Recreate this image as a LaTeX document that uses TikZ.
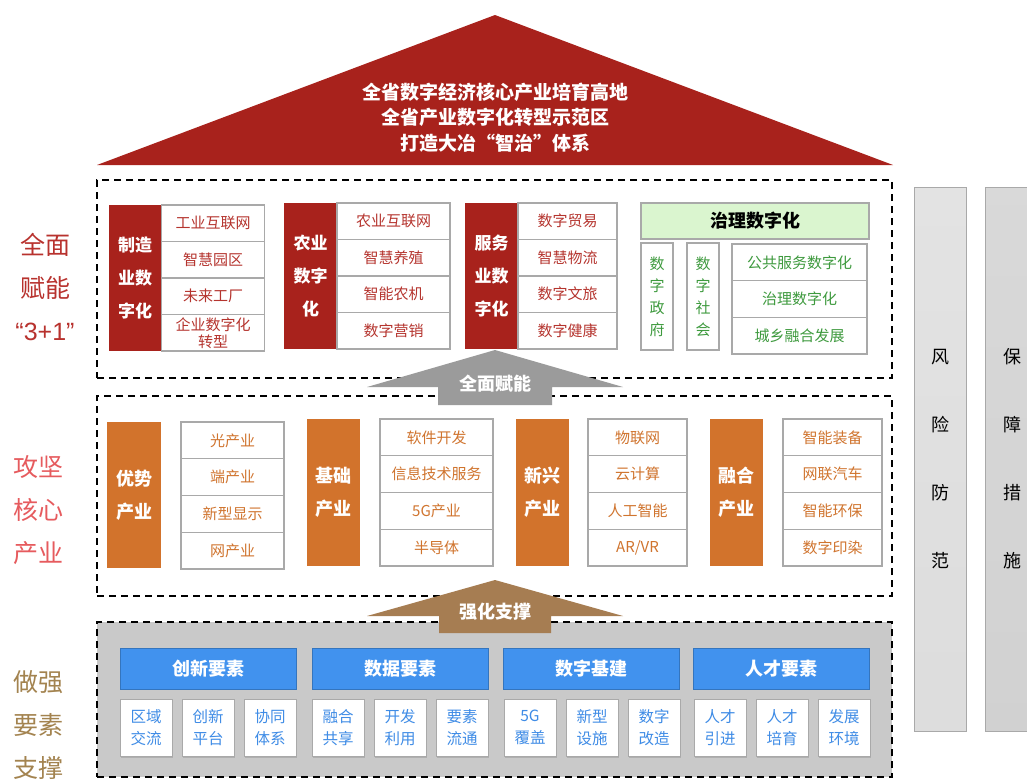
\documentclass[tikz,border=0pt]{standalone}
\usepackage{fontspec}
\setmainfont{Noto Sans CJK SC}
\newfontfamily\latinfont{Liberation Sans}
\usepackage{tikz}
\usetikzlibrary{positioning, shadows}
\definecolor{roofred}{HTML}{A8221C}
\definecolor{itemred}{HTML}{B5342E}
\definecolor{boxgray}{HTML}{A9A9A9}
\definecolor{orangeblk}{HTML}{D2732C}
\definecolor{orangetxt}{HTML}{D0742E}
\definecolor{govgreen}{HTML}{3E9A3E}
\definecolor{govfill}{HTML}{DAF5CF}
\definecolor{bluehead}{HTML}{4192EE}
\definecolor{bluetxt}{HTML}{3F8CE6}
\definecolor{bottomgray}{HTML}{C9C9C9}
\definecolor{arrowgray}{HTML}{9B9B9B}
\definecolor{arrowbrown}{HTML}{A67D52}
\definecolor{labred}{HTML}{B8322E}
\definecolor{labpink}{HTML}{E65B5E}
\definecolor{labbrown}{HTML}{A3834F}
\tikzstyle{dashlayer}=[rectangle, draw=black, dash pattern=on 7pt off 5pt, line width=1.8pt, inner sep=0pt]
\tikzstyle{rooftext}=[text=white, font=\bfseries\fontsize{19}{25.5}\selectfont, align=center]
\tikzstyle{arrowtext}=[text=white, font=\bfseries\fontsize{18}{20}\selectfont]
\tikzstyle{sidetext}=[font=\fontsize{25}{43}\selectfont, align=center]
\tikzstyle{sidecol}=[rectangle, draw=boxgray, line width=1pt, minimum height=544pt, font=\fontsize{18}{68}\selectfont, align=center, inner sep=0pt]
\tikzstyle{redblk}=[rectangle, fill=roofred, text=white, font=\bfseries\fontsize{17}{33}\selectfont, align=center, minimum width=53pt, minimum height=146pt, inner sep=0pt, outer sep=0pt]
\tikzstyle{ritem}=[rectangle, draw=boxgray, fill=white, line width=1.2pt, text=itemred, font=\fontsize{15}{17}\selectfont, align=center, minimum height=36.5pt, inner sep=0pt, outer sep=0pt]
\tikzstyle{ghead}=[rectangle, draw=boxgray, fill=govfill, line width=1.2pt, font=\bfseries\fontsize{18}{20}\selectfont, minimum width=228pt, minimum height=36pt]
\tikzstyle{gcol}=[rectangle, draw=boxgray, fill=white, line width=1.2pt, text=govgreen, font=\fontsize{15}{22}\selectfont, align=center, minimum width=32pt, minimum height=107pt, inner sep=0pt]
\tikzstyle{gitem}=[rectangle, draw=boxgray, fill=white, line width=1.2pt, text=govgreen, font=\fontsize{15}{17}\selectfont, minimum width=135pt, minimum height=36.7pt, inner sep=0pt, outer sep=0pt]
\tikzstyle{oblk}=[rectangle, fill=orangeblk, text=white, font=\bfseries\fontsize{18}{33}\selectfont, align=center, minimum width=53pt, minimum height=147pt, inner sep=0pt]
\tikzstyle{oitem}=[rectangle, draw=boxgray, fill=white, line width=1.2pt, text=orangetxt, font=\fontsize{15}{17}\selectfont, minimum height=36.75pt, inner sep=0pt, outer sep=0pt]
\tikzstyle{bhead}=[rectangle, draw=bluehead!80!black, fill=bluehead, line width=0.6pt, text=white, font=\bfseries\fontsize{18}{20}\selectfont, minimum width=176pt, minimum height=41pt, drop shadow={shadow xshift=0.8pt, shadow yshift=-1pt, opacity=0.25}]
\tikzstyle{elembox}=[rectangle, draw=boxgray, fill=white, line width=1pt, text=bluetxt, font=\fontsize{15.5}{22}\selectfont, align=center, minimum width=52pt, minimum height=57pt, inner sep=0pt, drop shadow={shadow xshift=1pt, shadow yshift=-1.5pt, opacity=0.35}]

\begin{document}
\begin{tikzpicture}[x=1pt, y=-1pt]
    \useasboundingbox (0,0) rectangle (1027,780);
    \fill[white] (0,0) rectangle (1027,780);

    % roof
    \fill[roofred] (97,165) -- (495,15) -- (893,165) -- cycle;
    \node[rooftext] (goal) at (495,117.5) {全省数字经济核心产业培育高地\\全省产业数字化转型示范区\\打造大冶“智治”体系};

    % three layers
    \node[dashlayer, minimum width=795pt, minimum height=198pt] (top) at (494.5,279) {};
    \node[dashlayer, minimum width=795pt, minimum height=200pt] (mid) at (494.5,496) {};
    \node[dashlayer, fill=bottomgray, minimum width=795pt, minimum height=155pt] (low) at (494.5,699.5) {};

    % side labels
    \node[sidetext, text=labred] (lab1) at (45,287) {全面\\赋能\\{\latinfont “3+1”}};
    \node[sidetext, text=labpink] (lab2) at (38,510) {攻坚\\核心\\产业};
    \node[sidetext, text=labbrown] (lab3) at (38,725) {做强\\要素\\支撑};

    % right columns
    \node[sidecol, top color=gray!22, bottom color=gray!27, minimum width=52pt] (risk) at (940,459) {风\\险\\防\\范};
    \node[sidecol, top color=gray!30, bottom color=gray!36, minimum width=55pt] (guard) at (1012.5,459) {保\\障\\措\\施};

    % top layer
    \node[redblk] (make) at (135,278) {制造\\业数\\字化};
    \node[ritem, minimum width=103pt, anchor=north west] (make1) at (make.north east) {工业互联网};
    \node[ritem, minimum width=103pt] (make2) [below=0pt of make1] {智慧园区};
    \node[ritem, minimum width=103pt] (make3) [below=0pt of make2] {未来工厂};
    \node[ritem, minimum width=103pt, align=center] (make4) [below=0pt of make3] {企业数字化\\转型};

    \node[redblk] (farm) at (310.5,276) {农业\\数字\\化};
    \node[ritem, minimum width=113pt, anchor=north west] (farm1) at (farm.north east) {农业互联网};
    \node[ritem, minimum width=113pt] (farm2) [below=0pt of farm1] {智慧养殖};
    \node[ritem, minimum width=113pt] (farm3) [below=0pt of farm2] {智能农机};
    \node[ritem, minimum width=113pt] (farm4) [below=0pt of farm3] {数字营销};

    \node[redblk] (serv) at (491.5,276) {服务\\业数\\字化};
    \node[ritem, minimum width=99pt, anchor=north west] (serv1) at (serv.north east) {数字贸易};
    \node[ritem, minimum width=99pt] (serv2) [below=0pt of serv1] {智慧物流};
    \node[ritem, minimum width=99pt] (serv3) [below=0pt of serv2] {数字文旅};
    \node[ritem, minimum width=99pt] (serv4) [below=0pt of serv3] {数字健康};

    \node[ghead] (gov) at (755,221) {治理数字化};
    \node[gcol] (gov1) at (657,296.5) {数\\字\\政\\府};
    \node[gcol] (gov2) at (703,296.5) {数\\字\\社\\会};
    \node[gitem] (gov3) at (799.5,262.3) {公共服务数字化};
    \node[gitem] (gov4) [below=0pt of gov3] {治理数字化};
    \node[gitem] (gov5) [below=0pt of gov4] {城乡融合发展};

    % middle layer
    \node[oblk, minimum width=54pt, minimum height=146pt] (adv) at (134,495) {优势\\产业};
    \node[oitem, minimum width=103pt, anchor=north] (adv1) at (232.5,422) {光产业};
    \node[oitem, minimum width=103pt] (adv2) [below=0pt of adv1] {端产业};
    \node[oitem, minimum width=103pt] (adv3) [below=0pt of adv2] {新型显示};
    \node[oitem, minimum width=103pt] (adv4) [below=0pt of adv3] {网产业};

    \node[oblk] (base) at (333.5,492.5) {基础\\产业};
    \node[oitem, minimum width=113pt, anchor=north] (base1) at (436.5,419) {软件开发};
    \node[oitem, minimum width=113pt] (base2) [below=0pt of base1] {信息技术服务};
    \node[oitem, minimum width=113pt] (base3) [below=0pt of base2] {5G产业};
    \node[oitem, minimum width=113pt] (base4) [below=0pt of base3] {半导体};

    \node[oblk] (new) at (542.5,492.5) {新兴\\产业};
    \node[oitem, minimum width=99pt, anchor=north] (new1) at (637.5,419) {物联网};
    \node[oitem, minimum width=99pt] (new2) [below=0pt of new1] {云计算};
    \node[oitem, minimum width=99pt] (new3) [below=0pt of new2] {人工智能};
    \node[oitem, minimum width=99pt] (new4) [below=0pt of new3] {AR/VR};

    \node[oblk] (fuse) at (736.5,492.5) {融合\\产业};
    \node[oitem, minimum width=99pt, anchor=north] (fuse1) at (832.5,419) {智能装备};
    \node[oitem, minimum width=99pt] (fuse2) [below=0pt of fuse1] {网联汽车};
    \node[oitem, minimum width=99pt] (fuse3) [below=0pt of fuse2] {智能环保};
    \node[oitem, minimum width=99pt] (fuse4) [below=0pt of fuse3] {数字印染};

    % bottom layer
    \node[bhead] (inno) at (208,668.5) {创新要素};
    \node[elembox] (inno1) at (146,727.5) {区域\\交流};
    \node[elembox] (inno2) at (208,727.5) {创新\\平台};
    \node[elembox] (inno3) at (270,727.5) {协同\\体系};

    \node[bhead] (data) at (400,668.5) {数据要素};
    \node[elembox] (data1) at (338,727.5) {融合\\共享};
    \node[elembox] (data2) at (400,727.5) {开发\\利用};
    \node[elembox] (data3) at (462,727.5) {要素\\流通};

    \node[bhead] (infra) at (591.5,668.5) {数字基建};
    \node[elembox] (infra1) at (530,727.5) {5G\\覆盖};
    \node[elembox] (infra2) at (592,727.5) {新型\\设施};
    \node[elembox] (infra3) at (654,727.5) {数字\\改造};

    \node[bhead] (talent) at (781.5,668.5) {人才要素};
    \node[elembox] (talent1) at (720,727.5) {人才\\引进};
    \node[elembox] (talent2) at (782,727.5) {人才\\培育};
    \node[elembox] (talent3) at (844,727.5) {发展\\环境};

    % block arrows
    \fill[arrowgray] (495,350) -- (623,387) -- (552,387) -- (552,405) -- (438,405) -- (438,387) -- (367,387) -- cycle;
    \node[arrowtext] (enable) at (495,384) {全面赋能};
    \fill[arrowbrown] (495,580) -- (623,616) -- (551,616) -- (551,633) -- (439,633) -- (439,616) -- (367,616) -- cycle;
    \node[arrowtext] (support) at (495,612) {强化支撑};
\end{tikzpicture}
\end{document}
